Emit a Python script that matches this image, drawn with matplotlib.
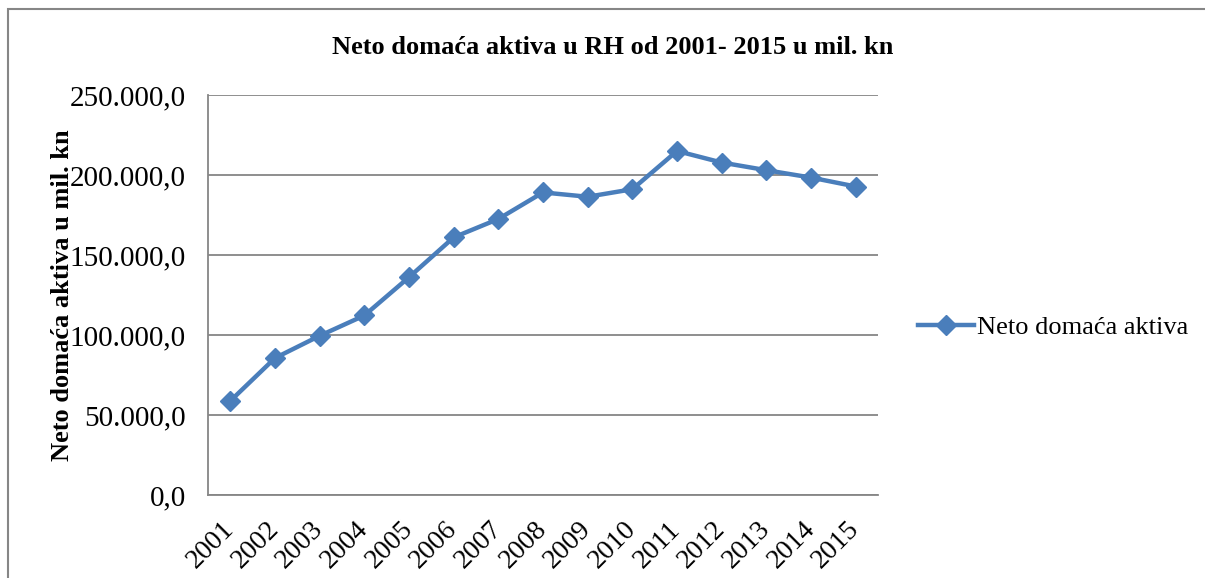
import numpy as np
import matplotlib
matplotlib.use("Agg")
from matplotlib import pyplot as plt
from matplotlib.patches import Rectangle
from matplotlib.ticker import FuncFormatter

years = ["2001", "2002", "2003", "2004", "2005", "2006", "2007", "2008",
         "2009", "2010", "2011", "2012", "2013", "2014", "2015"]
neto_aktiva = [58800, 85600, 99500, 112200, 136100, 161000, 172500, 189100,
               186400, 191100, 215000, 207800, 203000, 198400, 192800]

plt.rcParams['font.family'] = ['Liberation Serif', 'DejaVu Serif']

fig = plt.figure(figsize=(12.05, 5.78), dpi=100)
ax = fig.add_axes([208/1205, 83/578, 670/1205, 400/578])

# outer chart border
fig.patches.append(Rectangle((8/1205, -0.1), 1.2, (578-9)/578 + 0.1,
                             transform=fig.transFigure, fill=False,
                             edgecolor='#868686', linewidth=1.5))

x = np.arange(len(years))
ax.plot(x, neto_aktiva, color='#4A7EBB', linewidth=3.2, marker='D',
        markersize=10.5, label='Neto domaća aktiva')

ax.set_xlim(-0.5, len(years) - 0.5)
ax.set_ylim(0, 250000)
ax.set_yticks(np.arange(0, 250001, 50000))
ax.yaxis.set_major_formatter(FuncFormatter(
    lambda v, p: "{:,.1f}".format(v).replace(",", "X").replace(".", ",").replace("X", ".")))
ax.grid(axis='y', color='#868686', linewidth=1.3)
ax.set_axisbelow(True)

for s in ['top', 'right']:
    ax.spines[s].set_visible(False)
for s in ['left', 'bottom']:
    ax.spines[s].set_color('#868686')
    ax.spines[s].set_linewidth(1.3)

ax.set_xticks(x)
ax.set_xticklabels(years, rotation=45, ha='right', va='center',
                   rotation_mode='anchor', fontsize=20)
ax.tick_params(axis='x', length=0, pad=22)
ax.tick_params(axis='y', length=0, labelsize=21, pad=16)

ax.set_ylabel('Neto domaća aktiva u mil. kn', fontsize=19, fontweight='bold',
              labelpad=-3)
fig.text(613/1205, 1 - 47/578, 'Neto domaća aktiva u RH od 2001- 2015 u mil. kn',
         ha='center', va='center', fontsize=19, fontweight='bold')

ax.legend(loc='center left', bbox_to_anchor=(1.0, 0.42), frameon=False,
          fontsize=19, handlelength=2.15, handletextpad=0.1, borderaxespad=1.1)

fig.savefig('out.png', dpi=100)
